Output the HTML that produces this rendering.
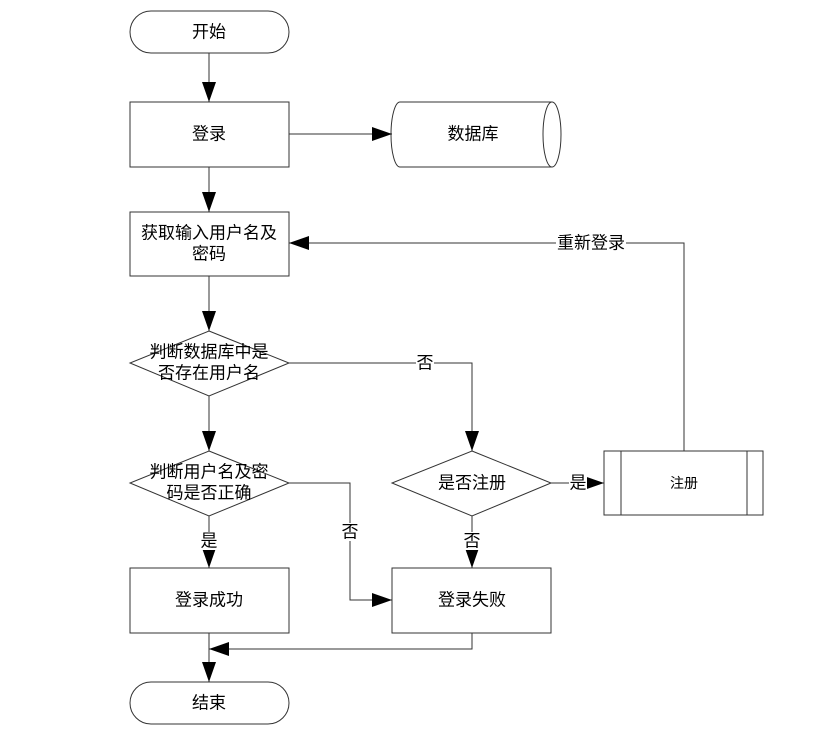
<!DOCTYPE html>
<html><head><meta charset="utf-8"><style>
body{margin:0;background:#fff;}
text{font-family:"Liberation Sans","Noto Sans CJK SC",sans-serif;font-size:17px;fill:#000;text-anchor:middle;dominant-baseline:central;}
</style></head><body>
<svg width="826" height="735" viewBox="0 0 826 735" xmlns="http://www.w3.org/2000/svg">
<defs><marker id="b" markerWidth="20" markerHeight="14" refX="20" refY="7" orient="auto" markerUnits="userSpaceOnUse"><path d="M0,0 L20,7 L0,14 z" fill="#000"/></marker></defs>
<g fill="#fff" stroke="#333" stroke-width="1">
<rect x="130" y="11" width="159" height="42" rx="21"/>
<rect x="130" y="102" width="159" height="65"/>
<path d="M400,102 L552,102 A9,32.5 0 0 1 552,167 L400,167 A9,32.5 0 0 1 400,102 z"/>
<path d="M552,102 A9,32.5 0 0 0 552,167"/>
<rect x="130" y="212" width="159" height="64"/>
<path d="M209,331 L289,363 L209,396 L130,363 z"/>
<path d="M209,451 L289,483 L209,516 L130,483 z"/>
<path d="M472,451 L551,483 L472,516 L392,483 z"/>
<rect x="604" y="451" width="159" height="64"/>
<line x1="621" y1="451" x2="621" y2="515"/><line x1="747" y1="451" x2="747" y2="515"/>
<rect x="130" y="568" width="159" height="65"/>
<rect x="392" y="568" width="159" height="65"/>
<rect x="130" y="682" width="159" height="42" rx="21"/>
</g>
<g fill="none" stroke="#333" stroke-width="1">
<line x1="209" y1="53" x2="209" y2="102" marker-end="url(#b)"/>
<line x1="289" y1="134" x2="392" y2="134" marker-end="url(#b)"/>
<line x1="209" y1="167" x2="209" y2="212" marker-end="url(#b)"/>
<line x1="209" y1="276" x2="209" y2="331" marker-end="url(#b)"/>
<line x1="209" y1="396" x2="209" y2="451" marker-end="url(#b)"/>
<polyline points="289,363 472,363 472,451" marker-end="url(#b)"/>
<polyline points="289,483 350,483 350,600 392,600" marker-end="url(#b)"/>
<line x1="209" y1="516" x2="209" y2="568" marker-end="url(#b)"/>
<line x1="472" y1="516" x2="472" y2="568" marker-end="url(#b)"/>
<line x1="551" y1="483" x2="604" y2="483" marker-end="url(#b)"/>
<polyline points="684,451 684,243 289,243" marker-end="url(#b)"/>
<polyline points="472,633 472,649 209,649" marker-end="url(#b)"/>
<line x1="209" y1="633" x2="209" y2="682" marker-end="url(#b)"/>
</g>
<g>
<rect x="416" y="354" width="18" height="18" fill="#fff"/>
<rect x="341" y="523" width="18" height="18" fill="#fff"/>
<rect x="200" y="532" width="18" height="18" fill="#fff"/>
<rect x="463" y="532" width="18" height="18" fill="#fff"/>
<rect x="569" y="474" width="18" height="18" fill="#fff"/>
<rect x="556" y="234" width="70" height="18" fill="#fff"/>
</g>
<text x="209" y="32">开始</text>
<text x="209" y="134">登录</text>
<text x="473" y="134">数据库</text>
<text x="209" y="233">获取输入用户名及</text>
<text x="209" y="254">密码</text>
<text x="209" y="352">判断数据库中是</text>
<text x="209" y="373">否存在用户名</text>
<text x="209" y="472">判断用户名及密</text>
<text x="209" y="493">码是否正确</text>
<text x="472" y="483">是否注册</text>
<text x="684" y="483" style="font-size:14px">注册</text>
<text x="209" y="600">登录成功</text>
<text x="472" y="600">登录失败</text>
<text x="209" y="703">结束</text>
<text x="425" y="363">否</text>
<text x="350" y="532">否</text>
<text x="209" y="541">是</text>
<text x="472" y="541">否</text>
<text x="578" y="483">是</text>
<text x="591" y="243">重新登录</text>
</svg>
</body></html>
